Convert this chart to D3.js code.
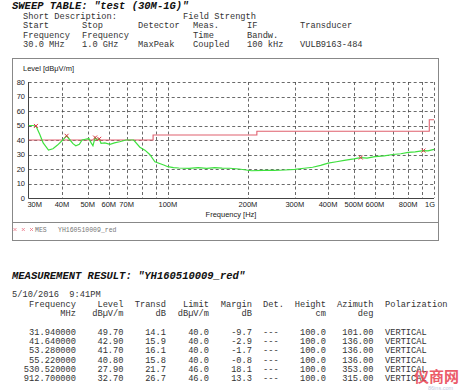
<!DOCTYPE html>
<html lang="en">
<head>
    <meta charset="UTF-8">
    <title>Sweep table</title>
    <script src="https://d3js.org/d3.v7.min.js"></script>
    <style>
        body { margin: 0; background: #fff; }
        .mono { font-family: "Liberation Mono", "DejaVu Sans Mono", monospace; font-size: 8.7px; fill: #333; }
        .ttl { font-family: "Liberation Mono", monospace; font-size: 10.5px; font-weight: bold; font-style: italic; fill: #111; }
        .ax { font-family: "Liberation Sans", Arial, sans-serif; font-size: 7.5px; fill: #222; }
    </style>
</head>
<body>
    <svg id="chart" width="464" height="390"></svg>

    <script>
        // trace (green)
        const traceFreq = [30, 31, 31.94, 33, 34, 35.6, 37, 38.5, 40, 41, 41.64, 42.9, 44, 45.1, 46.5, 47.6, 49, 50.5, 51.5, 52.3, 53.28, 54, 55.22, 56.1, 58, 60.6, 63, 65.9, 69.6, 73, 74.4, 78.5, 82, 85.5, 89.4, 96.5, 100, 105, 110, 120, 130, 140, 150, 160, 171, 185, 206, 230, 250, 275, 300, 325, 350, 375, 400, 430, 460, 500, 530.52, 560, 600, 650, 700, 750, 800, 850, 912.7, 950, 1000];
        const traceLevel = [50, 50, 49.7, 44, 38, 33, 34, 36.5, 39.5, 41.5, 42.9, 40, 37.5, 36, 37, 40, 40.5, 41, 38, 36, 41.7, 40.5, 40.8, 37.7, 38, 37, 38, 38.8, 40, 40, 40, 35, 33, 30, 25, 22.8, 21.6, 21, 20.7, 20.5, 21, 20.5, 21, 20.6, 20.5, 20, 18.8, 19, 19, 19.3, 19.8, 20.5, 21.2, 22.5, 24, 25, 26, 27, 27.9, 27.5, 28.5, 29, 30, 30.5, 31.5, 31.8, 32.7, 32.5, 33.5];

        // limit line (red)
        const limitFreq = [30, 88, 88, 216, 216, 960, 960, 1000];
        const limitLevel = [40, 40, 43.5, 43.5, 46, 46, 54, 54];

        // measured points
        const measFreq = [31.94, 41.64, 53.28, 55.22, 530.52, 912.7];
        const measLevel = [49.7, 42.9, 41.7, 40.8, 27.9, 32.7];
        const measTransd = [14.1, 15.9, 16.1, 15.8, 21.7, 26.7];
        const measLimit = [40.0, 40.0, 40.0, 40.0, 46.0, 46.0];
        const measMargin = [-9.7, -2.9, -1.7, -0.8, 18.1, 13.3];
        const measHeight = [100.0, 100.0, 100.0, 100.0, 100.0, 100.0];
        const measAzimuth = [101.00, 136.00, 136.00, 136.00, 353.00, 315.00];
        const measPol = ["VERTICAL", "VERTICAL", "VERTICAL", "VERTICAL", "VERTICAL", "VERTICAL"];

        const gridFreq = [40, 50, 60, 70, 80, 90, 100, 200, 300, 400, 500, 600, 700, 800, 900, 1000];
        const tickFreq = [30, 40, 50, 60, 70, 100, 200, 300, 400, 500, 600, 800, 1000];
        const tickLabel = ["30M", "40M", "50M", "60M", "70M", "100M", "200M", "300M", "400M", "500M", "600M", "800M", "1G"];
        const levelTicks = [0, 10, 20, 30, 40, 50, 60, 70, 80];

        const sweepCols = [23, 82, 138, 193, 247, 300];
        const sweepRows = [
            ["Start", "Stop", "Detector", "Meas.", "IF", "Transducer"],
            ["Frequency", "Frequency", "", "Time", "Bandw.", ""],
            ["30.0 MHz", "1.0 GHz", "MaxPeak", "Coupled", "100 kHz", "VULB9163-484"]
        ];

        const svg = d3.select("#chart");

        // header
        svg.append("text").attr("class", "ttl").attr("x", 12).attr("y", 9)
            .text('SWEEP TABLE: "test (30M-1G)"');
        svg.append("text").attr("class", "mono").attr("x", 23).attr("y", 18.5).text("Short Description:");
        svg.append("text").attr("class", "mono").attr("x", 183).attr("y", 18.5).text("Field Strength");
        sweepRows.forEach(function (row, i) {
            row.forEach(function (t, j) {
                svg.append("text").attr("class", "mono")
                    .attr("x", sweepCols[j]).attr("y", 28 + i * 9.5).text(t);
            });
        });

        // frame
        svg.append("rect").attr("x", 12.5).attr("y", 58.5).attr("width", 426).attr("height", 182)
            .attr("fill", "none").attr("stroke", "#888");
        svg.append("line").attr("x1", 12.5).attr("x2", 438.5).attr("y1", 222.5).attr("y2", 222.5)
            .attr("stroke", "#888");

        // scales
        const x = d3.scaleLog().domain([30, 1000]).range([28.7, 434]);
        const y = d3.scaleLinear().domain([0, 80]).range([198, 82]);

        const g = svg.append("g");

        // grid
        g.selectAll(".hg").data(levelTicks.slice(1)).enter().append("line")
            .attr("x1", x(30)).attr("x2", x(1000))
            .attr("y1", d => Math.round(y(d)) + 0.5).attr("y2", d => Math.round(y(d)) + 0.5)
            .attr("stroke", "#444").attr("stroke-width", 0.8).attr("stroke-dasharray", "3,2.5");
        g.selectAll(".vg").data(gridFreq).enter().append("line")
            .attr("x1", d => Math.round(x(d)) + 0.5).attr("x2", d => Math.round(x(d)) + 0.5)
            .attr("y1", y(80)).attr("y2", y(0))
            .attr("stroke", "#444").attr("stroke-width", 0.8).attr("stroke-dasharray", "3,2.5");

        // axes lines
        g.append("line").attr("x1", 28.5).attr("x2", 28.5).attr("y1", y(80)).attr("y2", y(0) + 0.5)
            .attr("stroke", "#444");
        g.append("line").attr("x1", 28.5).attr("x2", x(1000)).attr("y1", y(0) + 0.5).attr("y2", y(0) + 0.5)
            .attr("stroke", "#444");

        // tick labels (first and last nudged inward like the original)
        const nudge = d => d === 30 ? 6 : d === 1000 ? -4 : 0;
        g.selectAll(".yl").data(levelTicks).enter().append("text").attr("class", "ax")
            .attr("x", 25).attr("y", d => y(d) + 2.7).attr("text-anchor", "end").text(d => d);
        g.selectAll(".xl").data(tickFreq).enter().append("text").attr("class", "ax")
            .attr("x", d => x(d) + nudge(d)).attr("y", 207)
            .attr("text-anchor", "middle").text((d, i) => tickLabel[i]);
        svg.append("text").attr("class", "ax").attr("x", 23).attr("y", 71).text("Level [dBμV/m]");
        svg.append("text").attr("class", "ax").attr("x", 231).attr("y", 217)
            .attr("text-anchor", "middle").text("Frequency [Hz]");

        // limit line
        const line = d3.line().x(d => x(d[0])).y(d => y(d[1]));
        g.append("path").datum(limitFreq.map((f, i) => [f, limitLevel[i]]))
            .attr("d", line).attr("fill", "none").attr("stroke", "#e0606e").attr("stroke-width", 1.1);

        // trace
        g.append("path").datum(traceFreq.map((f, i) => [f, traceLevel[i]]))
            .attr("d", line).attr("fill", "none").attr("stroke", "#3ee03e").attr("stroke-width", 1.2);

        // markers
        g.selectAll(".mk").data(measFreq).enter().append("path")
            .attr("d", (d, i) => {
                const cx = x(d), cy = y(measLevel[i]), s = 2;
                return "M" + (cx - s) + "," + (cy - s) + "L" + (cx + s) + "," + (cy + s) +
                    "M" + (cx - s) + "," + (cy + s) + "L" + (cx + s) + "," + (cy - s);
            })
            .attr("stroke", "#dd3344").attr("stroke-width", 1);

        // legend
        [15, 23.3, 31.5].forEach(function (lx) {
            svg.append("path")
                .attr("d", "M" + (lx - 1.5) + ",228L" + (lx + 1.5) + ",231M" + (lx - 1.5) + ",231L" + (lx + 1.5) + ",228")
                .attr("stroke", "#ee7788").attr("stroke-width", 0.8);
        });
        svg.append("text").attr("class", "mono").attr("x", 35).attr("y", 232)
            .style("font-size", "6.5px").style("fill", "#777").text("MES");
        svg.append("text").attr("class", "mono").attr("x", 58).attr("y", 232)
            .style("font-size", "6.5px").style("fill", "#777").text("YH160510009_red");

        // measurement result
        svg.append("text").attr("class", "ttl").attr("x", 12).attr("y", 279)
            .text('MEASUREMENT RESULT: "YH160510009_red"');
        svg.append("text").attr("class", "mono").attr("x", 12).attr("y", 296.5)
            .text("5/10/2016  9:41PM").attr("xml:space", "preserve").style("white-space", "pre");

        const colX = [76, 123.5, 166, 209, 252, 263, 326, 373.5, 385];
        const colAnchor = ["end", "end", "end", "end", "end", "start", "end", "end", "start"];
        const head1 = ["Frequency", "Level", "Transd", "Limit", "Margin", "Det.", "Height", "Azimuth", "Polarization"];
        const head2 = ["MHz", "dBµV/m", "dB", "dBµV/m", "dB", "", "cm", "deg", ""];
        [head1, head2].forEach(function (row, r) {
            row.forEach(function (t, j) {
                svg.append("text").attr("class", "mono").attr("x", colX[j]).attr("y", 306.5 + r * 9.5)
                    .attr("text-anchor", colAnchor[j]).text(t);
            });
        });
        measFreq.forEach(function (f, i) {
            const cells = [f.toFixed(6), measLevel[i].toFixed(2), measTransd[i].toFixed(1),
                measLimit[i].toFixed(1), measMargin[i].toFixed(1), "---",
                measHeight[i].toFixed(1), measAzimuth[i].toFixed(2), measPol[i]];
            cells.forEach(function (t, j) {
                svg.append("text").attr("class", "mono").attr("x", colX[j]).attr("y", 334.7 + i * 9.3)
                    .attr("text-anchor", colAnchor[j]).text(t);
            });
        });

        // watermark (overlaps the table in the original too)
        svg.append("text").attr("x", 414).attr("y", 382)
            .style("font-family", "'Noto Sans CJK SC', sans-serif").style("font-size", "15px")
            .style("font-weight", "bold").style("fill", "#e8404f").style("opacity", 0.85).text("仪商网");
        svg.append("text").attr("x", 428).attr("y", 389.5)
            .style("font-family", "Arial, sans-serif").style("font-size", "5.5px")
            .style("fill", "#c0c8e0").text("86ins.com");
    </script>
</body>
</html>
